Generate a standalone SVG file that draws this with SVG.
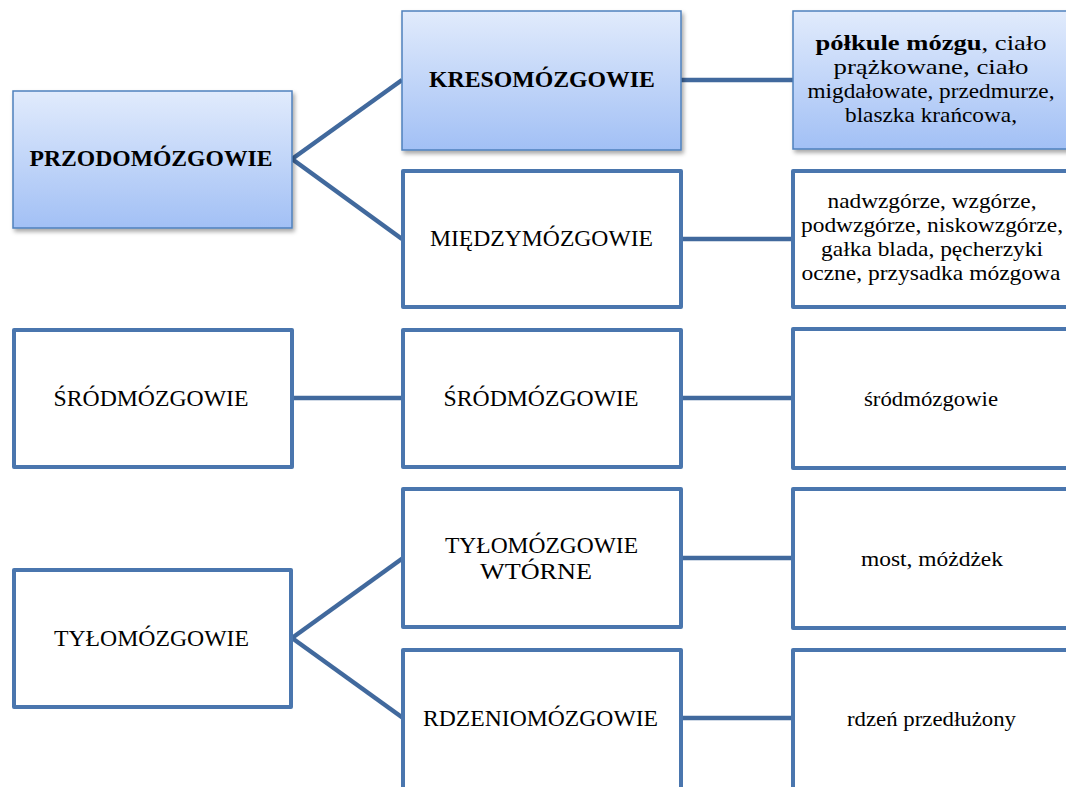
<svg xmlns="http://www.w3.org/2000/svg" width="1066" height="787" viewBox="0 0 1066 787">
<defs>
<linearGradient id="blue" x1="0" y1="0" x2="0" y2="1">
<stop offset="0" stop-color="#e1ebfc"/>
<stop offset="1" stop-color="#a2c0f5"/>
</linearGradient>
<filter id="sh" x="-10%" y="-10%" width="130%" height="140%">
<feDropShadow dx="2" dy="3" stdDeviation="2" flood-color="#000" flood-opacity="0.35"/>
</filter>
</defs>
<style>
.g{fill:url(#blue);stroke:#4f81bd;stroke-width:1.5;filter:url(#sh)}
.w{fill:#fff;stroke:#4a76ae;stroke-width:4;stroke-linejoin:round}
.c{stroke:#41699d;stroke-width:4.5;fill:none}
text{font-family:"Liberation Serif","Times New Roman",serif;fill:#000;text-anchor:middle}
.cap{font-size:24px}
.b{font-weight:bold}
.s{font-size:22px}
</style>
<rect width="1066" height="787" fill="#fff"/>
<g id="connectors">
<line class="c" x1="292" y1="159" x2="402" y2="80"/>
<line class="c" x1="292" y1="159" x2="402" y2="239"/>
<line class="c" x1="681" y1="80" x2="793" y2="80"/>
<line class="c" x1="683" y1="239" x2="793" y2="239"/>
<line class="c" x1="294" y1="398" x2="403" y2="398"/>
<line class="c" x1="683" y1="398" x2="793" y2="398"/>
<line class="c" x1="292" y1="638" x2="403" y2="558"/>
<line class="c" x1="292" y1="638" x2="403" y2="718"/>
<line class="c" x1="683" y1="558" x2="793" y2="558"/>
<line class="c" x1="683" y1="718" x2="793" y2="718"/>
</g>
<g id="przodomozgowie">
<rect class="g" x="13" y="91" width="279" height="137"/>
<text class="cap b" x="151" y="166" textLength="243" lengthAdjust="spacingAndGlyphs">PRZODOMÓZGOWIE</text>
</g>
<g id="kresomozgowie">
<rect class="g" x="402" y="11" width="279" height="139"/>
<text class="cap b" x="542" y="87" textLength="226" lengthAdjust="spacingAndGlyphs">KRESOMÓZGOWIE</text>
</g>
<g id="kreso-detail">
<rect class="g" x="793" y="11" width="290" height="138"/>
<text class="s" x="931" y="50" textLength="231" lengthAdjust="spacingAndGlyphs"><tspan class="b">półkule mózgu</tspan>, ciało</text>
<text class="s" x="931" y="74" textLength="195" lengthAdjust="spacingAndGlyphs">prążkowane, ciało</text>
<text class="s" x="931" y="98" textLength="247" lengthAdjust="spacingAndGlyphs">migdałowate,  przedmurze,</text>
<text class="s" x="931" y="122" textLength="172" lengthAdjust="spacingAndGlyphs">blaszka krańcowa,</text>
</g>
<g id="miedzymozgowie">
<rect class="w" x="403" y="171" width="278" height="136"/>
<text class="cap" x="541.5" y="246" textLength="223" lengthAdjust="spacingAndGlyphs">MIĘDZYMÓZGOWIE</text>
</g>
<g id="miedzy-detail">
<rect class="w" x="793" y="171" width="300" height="136"/>
<text class="s" x="932" y="208" textLength="209" lengthAdjust="spacingAndGlyphs">nadwzgórze, wzgórze,</text>
<text class="s" x="932" y="232" textLength="262" lengthAdjust="spacingAndGlyphs">podwzgórze, niskowzgórze,</text>
<text class="s" x="932" y="256" textLength="222" lengthAdjust="spacingAndGlyphs">gałka blada, pęcherzyki</text>
<text class="s" x="931" y="280" textLength="259" lengthAdjust="spacingAndGlyphs">oczne, przysadka mózgowa</text>
</g>
<g id="srodmozgowie-left">
<rect class="w" x="14" y="330" width="278" height="137"/>
<text class="cap" x="151" y="406" textLength="195" lengthAdjust="spacingAndGlyphs">ŚRÓDMÓZGOWIE</text>
</g>
<g id="srodmozgowie-mid">
<rect class="w" x="403" y="330" width="278" height="137"/>
<text class="cap" x="541" y="406" textLength="195" lengthAdjust="spacingAndGlyphs">ŚRÓDMÓZGOWIE</text>
</g>
<g id="srodmozgowie-detail">
<rect class="w" x="793" y="329" width="300" height="139"/>
<text class="s" x="931" y="406" textLength="134" lengthAdjust="spacingAndGlyphs">śródmózgowie</text>
</g>
<g id="tylomozgowie">
<rect class="w" x="14" y="570" width="277" height="137"/>
<text class="cap" x="151.5" y="646" textLength="195" lengthAdjust="spacingAndGlyphs">TYŁOMÓZGOWIE</text>
</g>
<g id="tylomozgowie-wtorne">
<rect class="w" x="403" y="489" width="278" height="138"/>
<text class="cap" x="541.5" y="553" textLength="193" lengthAdjust="spacingAndGlyphs">TYŁOMÓZGOWIE</text>
<text class="cap" x="536" y="579" textLength="112" lengthAdjust="spacingAndGlyphs">WTÓRNE</text>
</g>
<g id="tylo-detail">
<rect class="w" x="793" y="489" width="300" height="139"/>
<text class="s" x="932" y="566" textLength="142" lengthAdjust="spacingAndGlyphs">most, móżdżek</text>
</g>
<g id="rdzeniomozgowie">
<rect class="w" x="403" y="650" width="278" height="150"/>
<text class="cap" x="540.5" y="726" textLength="235" lengthAdjust="spacingAndGlyphs">RDZENIOMÓZGOWIE</text>
</g>
<g id="rdzen-detail">
<rect class="w" x="793" y="650" width="300" height="150"/>
<text class="s" x="931.5" y="726" textLength="169" lengthAdjust="spacingAndGlyphs">rdzeń przedłużony</text>
</g>
</svg>
